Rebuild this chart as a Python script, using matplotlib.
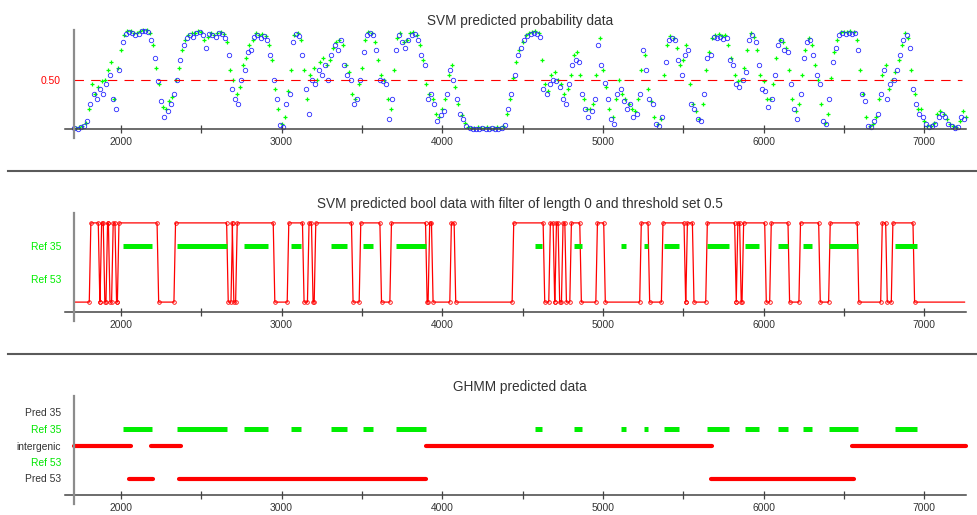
import numpy as np
import matplotlib
matplotlib.use("Agg")
import matplotlib.pyplot as plt
from matplotlib.lines import Line2D

plt.rcParams["font.family"] = ["Liberation Sans", "DejaVu Sans"]

# ---- data ---------------------------------------------------------------
X0, X1 = 1708, 7260                 # visible sequence window
POS_STEP = 20                       # spacing of the probability samples
BLUE_START, GREEN_START = 1710, 1720

svm_prob_blue = [
    0.01, 0.00, 0.02, 0.03, 0.08, 0.25, 0.35, 0.30, 0.40, 0.35,   # 1710
    0.45, 0.55, 0.30, 0.20, 0.60, 0.88, 0.96, 0.98, 0.97, 0.95,   # 1910
    0.96, 0.99, 0.99, 0.98, 0.90, 0.72, 0.48, 0.28, 0.12, 0.18,   # 2110
    0.25, 0.35, 0.50, 0.70, 0.85, 0.92, 0.95, 0.93, 0.97, 0.98,   # 2310
    0.95, 0.82, 0.96, 0.95, 0.93, 0.97, 0.96, 0.92, 0.75, 0.40,   # 2510
    0.30, 0.25, 0.50, 0.60, 0.78, 0.80, 0.93, 0.95, 0.92, 0.94,   # 2710
    0.90, 0.75, 0.50, 0.30, 0.04, 0.02, 0.25, 0.35, 0.88, 0.96,   # 2910
    0.94, 0.75, 0.40, 0.15, 0.50, 0.45, 0.60, 0.55, 0.65, 0.50,   # 3110
    0.75, 0.85, 0.80, 0.90, 0.65, 0.55, 0.50, 0.25, 0.30, 0.50,   # 3310
    0.78, 0.95, 0.97, 0.95, 0.80, 0.50, 0.48, 0.45, 0.10, 0.30,   # 3510
    0.80, 0.95, 0.88, 0.82, 0.90, 0.95, 0.96, 0.90, 0.75, 0.65,   # 3710
    0.30, 0.35, 0.25, 0.08, 0.14, 0.18, 0.35, 0.60, 0.50, 0.30,   # 3910
    0.15, 0.10, 0.03, 0.01, 0.00, 0.00, 0.00, 0.01, 0.00, 0.00,   # 4110
    0.01, 0.00, 0.00, 0.01, 0.04, 0.20, 0.35, 0.55, 0.75, 0.82,   # 4310
    0.90, 0.94, 0.96, 0.97, 0.96, 0.93, 0.40, 0.35, 0.45, 0.50,   # 4510
    0.48, 0.42, 0.30, 0.25, 0.45, 0.65, 0.70, 0.68, 0.35, 0.20,   # 4710
    0.12, 0.18, 0.30, 0.85, 0.65, 0.46, 0.30, 0.10, 0.05, 0.35,   # 4910
    0.40, 0.28, 0.20, 0.25, 0.12, 0.15, 0.35, 0.80, 0.60, 0.30,   # 5110
    0.25, 0.05, 0.03, 0.12, 0.68, 0.90, 0.92, 0.90, 0.70, 0.55,   # 5310
    0.75, 0.80, 0.25, 0.20, 0.10, 0.08, 0.35, 0.72, 0.75, 0.93,   # 5510
    0.92, 0.93, 0.91, 0.92, 0.70, 0.65, 0.45, 0.42, 0.50, 0.58,   # 5710
    0.90, 0.95, 0.88, 0.65, 0.40, 0.38, 0.22, 0.30, 0.55, 0.85,   # 5910
    0.90, 0.80, 0.78, 0.45, 0.20, 0.10, 0.35, 0.72, 0.88, 0.90,   # 6110
    0.75, 0.55, 0.45, 0.08, 0.05, 0.30, 0.68, 0.82, 0.95, 0.97,   # 6310
    0.96, 0.97, 0.96, 0.97, 0.80, 0.35, 0.28, 0.03, 0.02, 0.08,   # 6510
    0.15, 0.35, 0.60, 0.30, 0.45, 0.50, 0.60, 0.75, 0.90, 0.95,   # 6710
    0.82, 0.40, 0.25, 0.15, 0.12, 0.05, 0.02, 0.03, 0.05, 0.12,   # 6910
    0.15, 0.12, 0.05, 0.03, 0.01, 0.02, 0.12, 0.10,               # 7110
]

svm_prob_green = [
    0.01, 0.02, 0.03, 0.06, 0.20, 0.45, 0.35, 0.42, 0.48, 0.50,   # 1720
    0.60, 0.68, 0.30, 0.62, 0.80, 0.95, 0.99, 0.99, 0.97, 0.97,   # 1920
    0.99, 1.00, 1.00, 0.97, 0.85, 0.62, 0.45, 0.22, 0.20, 0.28,   # 2120
    0.32, 0.50, 0.62, 0.80, 0.90, 0.95, 0.97, 0.97, 0.99, 0.98,   # 2320
    0.90, 0.93, 0.97, 0.95, 0.97, 0.98, 0.96, 0.88, 0.60, 0.50,   # 2520
    0.35, 0.42, 0.65, 0.72, 0.85, 0.90, 0.97, 0.95, 0.96, 0.94,   # 2720
    0.85, 0.70, 0.40, 0.20, 0.05, 0.12, 0.38, 0.60, 0.95, 0.97,   # 2920
    0.90, 0.60, 0.30, 0.55, 0.62, 0.50, 0.68, 0.72, 0.65, 0.70,   # 3120
    0.82, 0.88, 0.90, 0.85, 0.65, 0.58, 0.35, 0.30, 0.45, 0.62,   # 3320
    0.90, 0.98, 0.97, 0.88, 0.70, 0.55, 0.50, 0.30, 0.20, 0.60,   # 3520
    0.92, 0.97, 0.88, 0.90, 0.97, 0.98, 0.95, 0.85, 0.70, 0.45,   # 3720
    0.35, 0.30, 0.15, 0.12, 0.20, 0.30, 0.55, 0.65, 0.42, 0.25,   # 3920
    0.14, 0.06, 0.02, 0.01, 0.01, 0.02, 0.01, 0.01, 0.02, 0.01,   # 4120
    0.01, 0.02, 0.01, 0.03, 0.15, 0.30, 0.52, 0.68, 0.80, 0.88,   # 4320
    0.95, 0.97, 0.98, 0.99, 0.97, 0.70, 0.45, 0.38, 0.55, 0.58,   # 4520
    0.50, 0.45, 0.35, 0.40, 0.55, 0.75, 0.78, 0.55, 0.30, 0.20,   # 4720
    0.20, 0.25, 0.55, 0.92, 0.60, 0.42, 0.20, 0.12, 0.30, 0.50,   # 4920
    0.35, 0.30, 0.25, 0.20, 0.18, 0.30, 0.60, 0.75, 0.40, 0.28,   # 5120
    0.12, 0.05, 0.10, 0.55, 0.85, 0.94, 0.92, 0.82, 0.65, 0.70,   # 5320
    0.85, 0.45, 0.25, 0.18, 0.10, 0.25, 0.60, 0.78, 0.92, 0.95,   # 5520
    0.96, 0.94, 0.95, 0.85, 0.72, 0.55, 0.48, 0.50, 0.62, 0.80,   # 5720
    0.97, 0.93, 0.80, 0.55, 0.48, 0.30, 0.30, 0.45, 0.72, 0.90,   # 5920
    0.88, 0.82, 0.60, 0.30, 0.18, 0.25, 0.55, 0.80, 0.92, 0.85,   # 6120
    0.65, 0.50, 0.25, 0.06, 0.15, 0.52, 0.78, 0.90, 0.98, 0.98,   # 6320
    0.98, 0.99, 0.98, 0.90, 0.60, 0.35, 0.12, 0.03, 0.05, 0.12,   # 6520
    0.30, 0.55, 0.65, 0.40, 0.50, 0.58, 0.70, 0.85, 0.97, 0.92,   # 6720
    0.60, 0.35, 0.20, 0.20, 0.08, 0.03, 0.03, 0.06, 0.15, 0.18,   # 6920
    0.15, 0.10, 0.05, 0.03, 0.02, 0.08, 0.18, 0.12,               # 7120
]

# SVM bool track: starts at 0, toggles at each position below
bool_switches = [1813, 1869, 1880, 1900, 1917, 1932, 1952, 1973, 1988, 2235,
                 2340, 2668, 2695, 2703, 2724, 2958, 3045, 3140, 3171, 3196,
                 3213, 3445, 3493, 3622, 3684, 3906, 3922, 3943, 4057, 4084,
                 4445, 4638, 4673, 4700, 4711, 4731, 4752, 4773, 4804, 4866,
                 4966, 5015, 5239, 5291, 5374, 5515, 5526, 5567, 5650, 5830,
                 5840, 5861, 5876, 6017, 6048, 6162, 6230, 6353, 6415, 6593,
                 6739, 6770, 6805, 6940]
bool_end = 7251
bool_step = 10

ref35 = [(2014, 2191), (2347, 2658), (2767, 2916), (3058, 3124), (3307, 3405),
         (3507, 3570), (3715, 3896), (4576, 4623), (4820, 4870), (5111, 5146),
         (5256, 5281), (5378, 5471), (5648, 5783), (5882, 5969), (6087, 6149),
         (6243, 6299), (6409, 6585), (6817, 6952)]
intergenic = [(1708, 2062), (2187, 2373), (3896, 5679), (6550, 7260)]
pred53 = [(2052, 2197), (2363, 3902), (5675, 6560)]
pred35 = []
ref53 = []

ghmm_rows = ["Pred 53", "Ref 53", "intergenic", "Ref 35", "Pred 35"]
ghmm_row_colors = ["#333333", "#00e600", "#333333", "#00e600", "#333333"]

xticks = [2000, 2500, 3000, 3500, 4000, 4500, 5000, 5500, 6000, 6500, 7000]
xticklabels = ["2000", "", "3000", "", "4000", "", "5000", "", "6000", "", "7000"]

# ---- layout -------------------------------------------------------------
W, H = 978, 515
RED, GREEN, BLUE, TXT = "#ff0000", "#00ee00", "#2a2aff", "#333333"
fig = plt.figure(figsize=(W / 100, H / 100), dpi=100)


def panel(top_px, title):
    ax = fig.add_axes([74 / W, 1 - (top_px + 99) / H, 892 / W, 99 / H])
    ax.set_xlim(X0, X1)
    for s in ax.spines.values():
        s.set_visible(False)
    # axis lines crossing at the origin, as in the original
    ax.add_line(Line2D([-9 / 892, 1], [0, 0], transform=ax.transAxes,
                       color="#444444", lw=1.1, clip_on=False, zorder=5))
    ax.add_line(Line2D([0, 0], [-9 / 99, 1], transform=ax.transAxes,
                       color="#8c8c8c", lw=1.6, clip_on=False, zorder=5))
    ax.set_xticks(xticks)
    ax.set_xticklabels(xticklabels)
    ax.tick_params(axis="x", direction="inout", length=6, width=0.9,
                   color="#444444", labelsize=7.4, labelcolor=TXT, pad=3)
    ax.tick_params(axis="y", length=0, labelsize=7.4, pad=9.4)
    ax.set_title(title, fontsize=9.8, color=TXT, pad=3.4)
    return ax


# panel 1: probabilities
ax = panel(30, "SVM predicted probability data")
xb = BLUE_START + POS_STEP * np.arange(len(svm_prob_blue))
xg = GREEN_START + POS_STEP * np.arange(len(svm_prob_green))
ax.plot(xg, svm_prob_green, ls="none", marker="+", ms=3.2, mew=0.9,
        color="#00ff00", clip_on=False)
ax.plot(xb, svm_prob_blue, ls="none", marker="o", ms=3.2, mew=0.6,
        mfc="none", mec=BLUE, clip_on=False)
ax.axhline(0.5, color=RED, lw=0.8, ls=(0, (8.5, 6.5)), xmax=0.995)
ax.set_ylim(0, 1)
ax.set_yticks([0.5])
ax.set_yticklabels(["0.50"], color=RED)

# panel 2: thresholded bool track
LOW, HIGH = 0.6, 5.4
ax = panel(213, "SVM predicted bool data with filter of length 0 and threshold set 0.5")
bx, by = [X0], [0]
val = 0
for s in bool_switches:
    bx += [s - bool_step, s]
    by += [val, 1 - val]
    val = 1 - val
bx.append(bool_end)
by.append(val)
bx = np.array(bx)
by = LOW + (HIGH - LOW) * np.array(by)
ax.plot(bx, by, color=RED, lw=0.9)
ax.plot(bx[1:-1], by[1:-1], ls="none", marker="o", ms=2.6, mew=0.6,
        mfc="none", mec=RED)
for a, b in ref35:
    ax.plot([a, b], [4, 4], color=GREEN, lw=3.6, solid_capstyle="butt")
ax.set_ylim(0, 6)
ax.set_yticks([2, 4])
ax.set_yticklabels(["Ref 53", "Ref 35"])
for t in ax.get_yticklabels():
    t.set_color(GREEN)

# panel 3: GHMM
ax = panel(396, "GHMM predicted data")
tracks = [(pred53, 1, RED, "round"), (ref53, 2, GREEN, "butt"),
          (intergenic, 3, RED, "round"), (ref35, 4, GREEN, "butt"),
          (pred35, 5, RED, "round")]
for segs, lev, col, cap in tracks:
    for a, b in segs:
        ax.plot([a, b], [lev, lev], color=col, lw=3.6 if col == GREEN else 3.0,
                solid_capstyle=cap, clip_on=False)
ax.set_ylim(0, 6)
ax.set_yticks([1, 2, 3, 4, 5])
ax.set_yticklabels(ghmm_rows)
for t, c in zip(ax.get_yticklabels(), ghmm_row_colors):
    t.set_color(c)

# separators between the three panels
for ypx in (171, 354):
    fig.add_artist(Line2D([8 / W, 1], [1 - ypx / H] * 2, transform=fig.transFigure,
                          color="#5a5a5a", lw=1.5))

fig.savefig("out.png", dpi=100)
